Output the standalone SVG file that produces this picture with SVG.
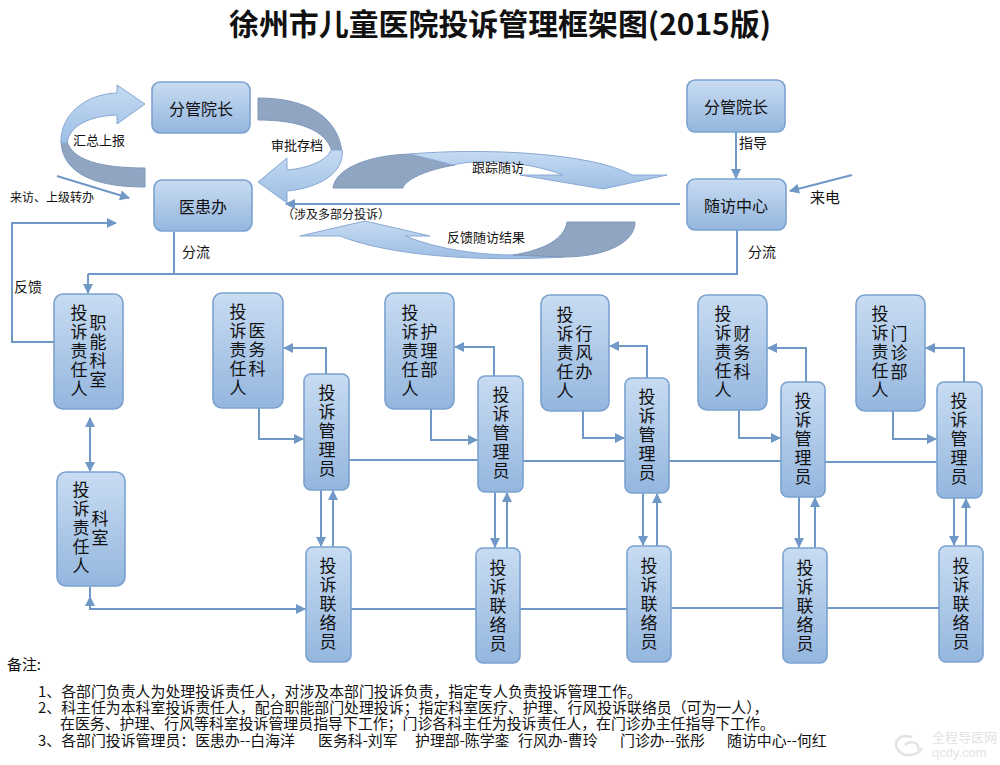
<svg xmlns="http://www.w3.org/2000/svg" width="1000" height="765" viewBox="0 0 1000 765">
<style>
.t{font-family:"Noto Sans CJK SC","Liberation Sans",sans-serif;fill:#111}
.bx{fill:url(#gbox);stroke:#7ba2cf;stroke-width:1.6}
.vt{font-size:17px;writing-mode:vertical-rl;letter-spacing:2px}
.h{font-size:16px;text-anchor:middle;dominant-baseline:central}
.lb{font-size:13px}
.ln{fill:none;stroke:#6f98c6;stroke-width:2}
.ar{marker-end:url(#ah)}
.band{fill:url(#gband);stroke:#88a9d3;stroke-width:1}
.dark{fill:#8fa5c1;stroke:#7f98ba;stroke-width:1}
.note{font-size:14.9px}
</style>
<defs>
<linearGradient id="gbox" x1="0" y1="0" x2="0" y2="1">
<stop offset="0" stop-color="#c8dcf2"/><stop offset="1" stop-color="#94b6de"/>
</linearGradient>
<linearGradient id="gband" x1="0" y1="0" x2="0" y2="1">
<stop offset="0" stop-color="#c6dbf2"/><stop offset="1" stop-color="#9ebee4"/>
</linearGradient>
<marker id="ah" viewBox="0 0 10 10" refX="9" refY="5" markerWidth="11" markerHeight="10" markerUnits="userSpaceOnUse" orient="auto-start-reverse">
<path d="M0,0 L10,5 L0,10 Z" fill="#6f98c6"/>
</marker>
</defs>
<rect width="1000" height="765" fill="#ffffff"/>

<text class="t" x="500" y="35" font-size="30" font-weight="bold" text-anchor="middle" textLength="542" lengthAdjust="spacingAndGlyphs">徐州市儿童医院投诉管理框架图(2015版)</text>

<g id="curved-arrows">
<path class="dark" d="M61,141 C62,168 85,187 145,187 L145,168 C100,168 72,160 67,141 Z"/>
<path class="band" d="M117,93 L117,85 L145,104 L117,124 L117,115 C90,116 70,125 67,143 L61,143 C60,115 85,94 117,93 Z"/>
<path class="dark" d="M258,98 C300,98 337,112 342,152 L332,151 C325,130 300,120 258,120 Z"/>
<path class="band" d="M342,150 C345,172 320,188 287,191 L287,203 L258,182 L287,158 L287,170 C310,168 327,160 331,150 Z"/>
<path class="dark" d="M333,188 C335,170 365,155 412,154 L455,165 C425,170 405,180 403,188 Z"/>
<path class="band" d="M410,154 C480,148 590,152 632,175 L667,175 L603,189 L520,175 L563,175 C530,162 480,158 453,165 Z"/>
<path class="band" d="M340,236 L300,236 L365,221 L430,236 L405,236 C440,250 480,255 515,255 L563,257 C480,262 390,256 340,236 Z"/>
<path class="dark" d="M567,222 L635,222 C635,243 605,257 563,257 L513,255 C545,250 565,238 567,222 Z"/>
<text class="t lb" x="73" y="145">汇总上报</text>
<text class="t lb" x="271" y="150">审批存档</text>
<text class="t lb" x="472" y="172">跟踪随访</text>
<text class="t lb" x="447" y="242">反馈随访结果</text>
</g>

<g id="connectors">
<path class="ln ar" d="M57,176 L129,198"/>
<path class="ln ar" d="M54,342 L12,342 L12,223 L116,223"/>
<path class="ln" d="M174,232 L174,274"/>
<path class="ln" d="M88,274 L737,274 L737,230"/>
<path class="ln ar" d="M88,274 L88,293"/>
<path class="ln ar" d="M680,204 L286,204"/>
<path class="ln ar" d="M736,132 L736,178"/>
<path class="ln ar" d="M852,175 L790,191"/>
<path class="ln ar" d="M90,418 L90,471" style="marker-start:url(#ah)"/>
<path class="ln ar" d="M90,597 L90,609 L305,609" style="marker-start:url(#ah)"/>
<path class="ln" d="M90,587 L90,600"/>
<path class="ln" d="M349,460 L478,460 M523,461 L625,461 M669,461 L781,461 M825,462 L937,462"/>
<path class="ln" d="M351,609 L476,609 M520,609 L627,609 M671,608 L783,608 M827,608 L939,608"/>
<path class="ln ar" d="M259,408 L259,439 L303,439"/>
<path class="ln ar" d="M431,409 L431,440 L477,440"/>
<path class="ln ar" d="M583,411 L583,438 L624,438"/>
<path class="ln ar" d="M739,410 L739,438 L780,438"/>
<path class="ln ar" d="M893,411 L893,439 L936,439"/>
<path class="ln ar" d="M326,374 L326,348 L284,348"/>
<path class="ln ar" d="M494,376 L494,347 L455,347"/>
<path class="ln ar" d="M647,378 L647,346 L610,346"/>
<path class="ln ar" d="M806,382 L806,348 L768,348"/>
<path class="ln ar" d="M964,382 L964,348 L926,348"/>
<path class="ln ar" d="M321,490 L321,546"/>
<path class="ln ar" d="M333,547 L333,491"/>
<path class="ln ar" d="M495,492 L495,547"/>
<path class="ln ar" d="M507,548 L507,493"/>
<path class="ln ar" d="M643,493 L643,545"/>
<path class="ln ar" d="M657,546 L657,494"/>
<path class="ln ar" d="M799,497 L799,547"/>
<path class="ln ar" d="M815,548 L815,498"/>
<path class="ln ar" d="M954,498 L954,545"/>
<path class="ln ar" d="M966,546 L966,499"/>
</g>

<g id="edge-labels">
<text class="t" x="10" y="202" font-size="12">来访、上级转办</text>
<text class="t" x="14" y="292" font-size="14">反馈</text>
<text class="t" x="182" y="257" font-size="14">分流</text>
<text class="t" x="748" y="257" font-size="14">分流</text>
<text class="t" x="739" y="148" font-size="14">指导</text>
<text class="t" x="810" y="203" font-size="15">来电</text>
<text class="t" x="282" y="219" font-size="12">（涉及多部分投诉）</text>
</g>

<g id="n-fgyz1"><rect class="bx" x="152" y="82" width="98" height="51" rx="8"/><text class="t h" x="201" y="108">分管院长</text></g>
<g id="n-yhb"><rect class="bx" x="154" y="180" width="98" height="51" rx="8"/><text class="t h" x="203" y="206">医患办</text></g>
<g id="n-fgyz2"><rect class="bx" x="687" y="80" width="98" height="52" rx="8"/><text class="t h" x="736" y="106">分管院长</text></g>
<g id="n-sfzx"><rect class="bx" x="687" y="179" width="99" height="51" rx="8"/><text class="t h" x="736" y="205">随访中心</text></g>

<g id="n-znks"><rect class="bx" x="54" y="294" width="69" height="115" rx="9"/>
<text class="t vt" x="79" y="304.5">投诉责任人</text><text class="t vt" x="98" y="314.5">职能科室</text></g>
<g id="n-ks"><rect class="bx" x="57" y="472" width="68" height="114" rx="9"/>
<text class="t vt" x="81" y="481.5">投诉责任人</text><text class="t vt" x="100" y="510.5">科室</text></g>
<g id="n-yw"><rect class="bx" x="213" y="293" width="70" height="115" rx="9"/>
<text class="t vt" x="238" y="303.5">投诉责任人</text><text class="t vt" x="257" y="322.5">医务科</text></g>
<g id="n-hl"><rect class="bx" x="385" y="293" width="69" height="116" rx="9"/>
<text class="t vt" x="410" y="304.5">投诉责任人</text><text class="t vt" x="429" y="323.5">护理部</text></g>
<g id="n-xf"><rect class="bx" x="541" y="295" width="68" height="116" rx="9"/>
<text class="t vt" x="565" y="306.5">投诉责任人</text><text class="t vt" x="584" y="325.5">行风办</text></g>
<g id="n-cw"><rect class="bx" x="698" y="295" width="69" height="115" rx="9"/>
<text class="t vt" x="723" y="305.5">投诉责任人</text><text class="t vt" x="742" y="325.5">财务科</text></g>
<g id="n-mz"><rect class="bx" x="856" y="295" width="69" height="116" rx="9"/>
<text class="t vt" x="880" y="305.5">投诉责任人</text><text class="t vt" x="899" y="325.5">门诊部</text></g>

<g id="n-gl1"><rect class="bx" x="304" y="374" width="45" height="116" rx="7"/><text class="t vt" x="327" y="384.5">投诉管理员</text></g>
<g id="n-gl2"><rect class="bx" x="478" y="376" width="45" height="116" rx="7"/><text class="t vt" x="501" y="386.5">投诉管理员</text></g>
<g id="n-gl3"><rect class="bx" x="625" y="378" width="44" height="115" rx="7"/><text class="t vt" x="647" y="388.5">投诉管理员</text></g>
<g id="n-gl4"><rect class="bx" x="781" y="382" width="44" height="115" rx="7"/><text class="t vt" x="803" y="392.5">投诉管理员</text></g>
<g id="n-gl5"><rect class="bx" x="937" y="382" width="45" height="116" rx="7"/><text class="t vt" x="959" y="392.5">投诉管理员</text></g>

<g id="n-ll1"><rect class="bx" x="306" y="547" width="45" height="115" rx="7"/><text class="t vt" x="328" y="557.5">投诉联络员</text></g>
<g id="n-ll2"><rect class="bx" x="476" y="548" width="44" height="115" rx="7"/><text class="t vt" x="498" y="559.5">投诉联络员</text></g>
<g id="n-ll3"><rect class="bx" x="627" y="546" width="44" height="116" rx="7"/><text class="t vt" x="649" y="557.5">投诉联络员</text></g>
<g id="n-ll4"><rect class="bx" x="783" y="548" width="44" height="115" rx="7"/><text class="t vt" x="805" y="559.5">投诉联络员</text></g>
<g id="n-ll5"><rect class="bx" x="939" y="546" width="44" height="116" rx="7"/><text class="t vt" x="961" y="557.5">投诉联络员</text></g>

<g id="notes">
<text class="t note" x="7" y="670">备注:</text>
<text class="t note" x="38" y="697">1、各部门负责人为处理投诉责任人，对涉及本部门投诉负责，指定专人负责投诉管理工作。</text>
<text class="t note" x="38" y="713">2、科主任为本科室投诉责任人，配合职能部门处理投诉；指定科室医疗、护理、行风投诉联络员（可为一人），</text>
<text class="t note" x="60" y="729">在医务、护理、行风等科室投诉管理员指导下工作；门诊各科主任为投诉责任人，在门诊办主任指导下工作。</text>
<text class="t note" y="746"><tspan x="38">3、各部门投诉管理员：医患办--白海洋</tspan><tspan x="318">医务科-刘军</tspan><tspan x="415">护理部-陈学銮</tspan><tspan x="518">行风办-曹玲</tspan><tspan x="620">门诊办--张彤</tspan><tspan x="727">随访中心--何红</tspan></text>
</g>

<g id="watermark" opacity="0.5">
<path d="M912,737 C900,733 892,742 898,750 C904,758 918,756 922,748 M905,745 C910,740 920,742 918,750" fill="none" stroke="#c8c8c8" stroke-width="2.5"/>
<text x="932" y="742" font-family="Noto Sans CJK SC, sans-serif" font-size="13" fill="#c8c8c8">全程导医网</text>
<text x="932" y="757" font-family="Liberation Sans, sans-serif" font-size="13" fill="#c8c8c8">qcdy.com</text>
</g>
</svg>
